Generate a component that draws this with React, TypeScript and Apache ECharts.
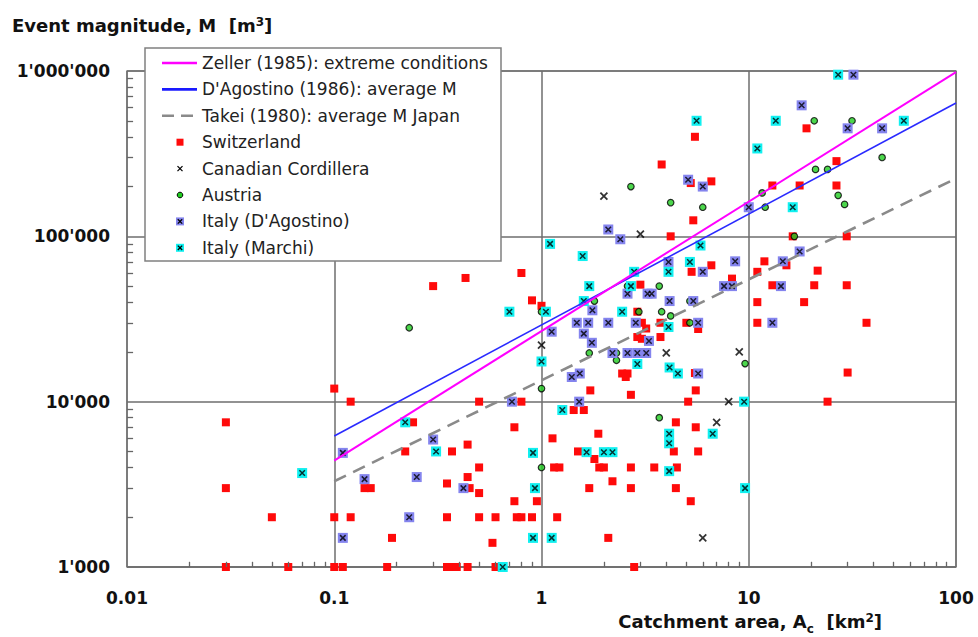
import React, { useEffect, useRef } from "react";
import * as echarts from "echarts";

// ---- axis tick labels ----
const xTickLabels = ["0.01", "0.1", "1", "10", "100"];
const yTickLabels = ["1'000", "10'000", "100'000", "1'000'000"];
const minorMultipliers = [2, 3, 4, 5, 6, 7, 8, 9];
const xDecades = [0.01, 0.1, 1, 10];
const yDecades = [1000, 10000, 100000];

// ---- model lines [area km2, magnitude m3] ----
const zellerLine = [[0.1, 4400], [100, 985000]];
const dagostinoLine = [[0.1, 6200], [100, 640000]];
const takeiLine = [[0.1, 3300], [100, 224000]];

// ---- observations [area km2, magnitude m3] ----
const switzerland = [
  [0.03, 7500], [0.03, 3000], [0.03, 1000], [0.05, 2000], [0.06, 1000],
  [0.1, 12000], [0.1, 2000], [0.1, 1000], [0.12, 10000], [0.12, 2000], [0.11, 1000],
  [0.14, 3000], [0.15, 3000], [0.19, 1500], [0.18, 1000],
  [0.24, 7500], [0.22, 5000],
  [0.35, 3200], [0.37, 5000], [0.44, 5500], [0.5, 4000], [0.44, 3500], [0.45, 3000], [0.5, 2800],
  [0.35, 2000], [0.5, 2000], [0.6, 2000], [0.76, 2000], [0.8, 2000], [0.9, 2000],
  [0.58, 1400], [0.74, 2500], [0.95, 2500], [0.74, 7000], [0.5, 10000], [0.8, 10000],
  [0.35, 1000], [0.37, 1000], [0.39, 1000], [0.44, 1000], [0.6, 1000],
  [1.13, 6000], [1.15, 4000], [1.22, 4000], [1.19, 2000],
  [0.8, 60000], [0.43, 56000], [0.3, 50000], [0.9, 41000], [1.0, 38000],
  [4.2, 100000], [5.4, 125000],
  [3.0, 51000], [2.9, 35000], [3.05, 30000], [3.2, 27700], [3.75, 30000], [5.0, 30000], [5.7, 27500],
  [3.75, 24600], [2.9, 24600], [3.05, 24000],
  [2.45, 14800], [2.6, 14800], [2.55, 14100], [1.72, 11700], [2.7, 11000], [5.55, 11700], [5.1, 10000],
  [5.5, 14900], [5.3, 61000],
  [1.43, 8900], [1.6, 8900], [4.45, 7500], [5.55, 7000], [1.88, 6400], [1.5, 5000], [4.35, 5000],
  [5.7, 5000], [1.8, 4500], [1.9, 4000], [2.0, 4000], [2.7, 4000], [3.5, 4000], [4.5, 4000],
  [2.2, 3300], [1.7, 3000], [2.7, 3000], [4.45, 3000], [5.25, 2500], [2.1, 1500], [2.8, 1000],
  [30, 15000], [24, 10000], [11, 30000], [11, 40000], [37, 30000], [18.5, 40000],
  [19, 450000], [26.5, 285000], [13, 203000], [17.6, 203000], [26.5, 203000], [16.3, 100000],
  [29.7, 100000], [15.2, 66800], [11.9, 70600], [11, 61000], [21.5, 62000], [6.6, 66800],
  [8.3, 55500], [13, 50600], [20.7, 50600], [29.7, 50600],
  [5.5, 400000], [3.8, 272000], [5.25, 210000], [6.6, 215000],
];

const canadian = [
  [2.0, 175000], [3.0, 103000], [1.0, 22000], [4.0, 19700], [9.0, 20000], [8.0, 10000], [7.0, 7500], [6.0, 1500],
];

const austria = [
  [0.23, 28000], [1.0, 35000], [1.0, 12000], [1.0, 4000], [1.8, 40600], [2.6, 50000], [3.7, 50000],
  [2.95, 35000], [3.8, 35000], [4.2, 33000], [5.2, 30000], [5.2, 40600], [1.7, 19700], [2.3, 19700],
  [2.3, 17800], [3.7, 8000], [9.6, 17000],
  [2.7, 200000], [4.2, 160000], [6.0, 150000],
  [20.7, 500000], [31.5, 500000], [44, 300000], [21, 254000], [24, 254000], [11.6, 183000],
  [27, 177000], [29, 156000], [12, 150000], [16.6, 100000],
];

const italyDAgostino = [
  [0.11, 4900], [0.11, 1500], [0.14, 3400], [0.23, 2000], [0.25, 3500], [0.3, 5900], [0.42, 3000],
  [0.72, 10000], [1.12, 26500],
  [2.1, 110000], [2.4, 96000], [4.1, 70000], [6.0, 61000], [2.6, 45000], [3.25, 45000], [3.4, 45000],
  [4.15, 40600], [5.4, 40600], [1.76, 35700], [1.48, 30000], [1.68, 30000], [2.1, 30000], [2.85, 30000],
  [5.7, 30000], [1.6, 25800], [3.3, 23300], [1.75, 22700], [2.2, 19700], [2.6, 19700], [2.9, 19700],
  [3.2, 19700], [5.7, 14800], [1.53, 14800], [1.4, 14100], [1.52, 10000],
  [5.1, 220000], [6.0, 200000], [13, 30000],
  [32, 950000], [18, 620000], [30, 450000], [44, 450000], [10, 150000], [17.6, 81000], [14.6, 70600],
  [8.6, 70600], [7.6, 50000], [8.3, 50000], [14.3, 50000],
];

const italyMarchi = [
  [0.07, 3700], [0.22, 7500], [0.31, 5000], [0.65, 1000], [0.7, 35000], [0.91, 4900], [0.93, 3000],
  [0.91, 1500], [1.05, 35000], [1.1, 90000], [1.0, 17500], [1.12, 1500], [1.26, 8900], [1.65, 4950],
  [2.0, 4950], [2.2, 4950], [4.13, 6400], [4.13, 5600], [4.13, 3800], [6.7, 6400], [9.5, 10000], [9.6, 3000],
  [5.85, 88000], [1.58, 76000], [5.2, 70000], [4.1, 61000], [2.8, 61000], [1.7, 50000], [2.7, 50000],
  [1.6, 40600], [2.45, 35000], [4.1, 28300], [2.9, 16900], [4.15, 16100], [4.55, 14800],
  [5.6, 500000], [27, 950000], [13.5, 500000], [56, 500000], [11, 340000], [16.3, 150000],
];

const NAMES = {
  zeller: "Zeller (1985): extreme conditions",
  dag: "D'Agostino (1986): average M",
  takei: "Takei (1980): average M Japan",
  ch: "Switzerland",
  ca: "Canadian Cordillera",
  at: "Austria",
  itd: "Italy (D'Agostino)",
  itm: "Italy (Marchi)",
};

const COLORS = {
  zeller: "#ff00ff",
  dag: "#2a2aff",
  takei: "#8a8a8a",
  ch: "#ff0a0a",
  at: "#1fcc1f",
  itd: "#8484ee",
  itm: "#10f0f0",
};

const X_SYMBOL = "path://M0,0L10,10M10,0L0,10";
const FONT = '"DejaVu Sans", "Liberation Sans", Arial, sans-serif';
const GRID_COLOR = "#6e6e6e";
const TICK_COLOR = "#666666";

function staticGraphic() {
  const lx = 145, ly = 48, lw = 356, lh = 213;
  const rowY = (i: number) => 63 + 26.4 * i;
  const els: any[] = [
    { type: "rect", z: 100, shape: { x: lx, y: ly, width: lw, height: lh }, style: { fill: "#fff", stroke: "#808080", lineWidth: 1.5 } },
  ];
  const lineEntries = [
    { c: COLORS.zeller, dash: null },
    { c: "#1a1aff", dash: null },
    { c: COLORS.takei, dash: [12, 7] },
  ];
  lineEntries.forEach((e, i) => {
    els.push({
      type: "line", z: 101,
      shape: { x1: 162, y1: rowY(i), x2: 197, y2: rowY(i) },
      style: { stroke: e.c, lineWidth: 2.6, lineDash: e.dash || undefined },
    });
  });
  const mx = 180;
  const xMark = (cx: number, cy: number, s: number, w: number) => [
    { type: "line", z: 102, shape: { x1: cx - s, y1: cy - s, x2: cx + s, y2: cy + s }, style: { stroke: "#000", lineWidth: w } },
    { type: "line", z: 102, shape: { x1: cx + s, y1: cy - s, x2: cx - s, y2: cy + s }, style: { stroke: "#000", lineWidth: w } },
  ];
  els.push({ type: "rect", z: 101, shape: { x: mx - 3.5, y: rowY(3) - 3.5, width: 7, height: 7 }, style: { fill: COLORS.ch } });
  els.push(...xMark(mx, rowY(4), 2.5, 1.3));
  els.push({ type: "circle", z: 101, shape: { cx: mx, cy: rowY(5), r: 2.8 }, style: { fill: COLORS.at, stroke: "#000", lineWidth: 1 } });
  els.push({ type: "rect", z: 101, shape: { x: mx - 4, y: rowY(6) - 4, width: 8, height: 8 }, style: { fill: COLORS.itd } });
  els.push(...xMark(mx, rowY(6), 2.2, 1.3));
  els.push({ type: "rect", z: 101, shape: { x: mx - 4, y: rowY(7) - 4, width: 8, height: 8 }, style: { fill: COLORS.itm } });
  els.push(...xMark(mx, rowY(7), 2.2, 1.3));
  [NAMES.zeller, NAMES.dag, NAMES.takei, NAMES.ch, NAMES.ca, NAMES.at, NAMES.itd, NAMES.itm].forEach((n, i) => {
    els.push({
      type: "text", z: 103,
      style: { text: n, x: 202, y: rowY(i), verticalAlign: "middle", align: "left", fontSize: 17, fontFamily: FONT, fill: "#222" },
    });
  });

  const base = { fontSize: 18, fontWeight: "bold", fontFamily: FONT, fill: "#111", lineHeight: 24, verticalAlign: "top" };
  const small = { fontSize: 12, fontWeight: "bold", fontFamily: FONT, fill: "#111", lineHeight: 12 };
  els.push({
    type: "text", z: 103,
    style: {
      x: 12, y: 16, align: "left", verticalAlign: "top",
      text: "{b|Event magnitude, M  [m}{s|3}{b|]}",
      rich: { b: base, s: { ...small, verticalAlign: "top" } },
    },
  });
  els.push({
    type: "text", z: 103,
    style: {
      x: 882, y: 612, align: "right", verticalAlign: "top",
      text: "{b|Catchment area, A}{c|c}{b|  [km}{s|2}{b|]}",
      rich: {
        b: base,
        c: { ...small, verticalAlign: "top", padding: [11, 0, 0, 0] },
        s: { ...small, verticalAlign: "top" },
      },
    },
  });
  return els;
}

// minor tick segments on the bottom (x) and left (y) axes, in data coordinates
function minorTickSegments() {
  const segs: any[] = [];
  const xMin = xDecades[0];
  const yMin = yDecades[0];
  xDecades.forEach((d) =>
    minorMultipliers.forEach((m) => {
      segs.push([{ coord: [m * d, yMin] }, { coord: [m * d, yMin * 1.075] }]);
    })
  );
  yDecades.forEach((d) =>
    minorMultipliers.forEach((m) => {
      segs.push([{ coord: [xMin, m * d] }, { coord: [xMin * 1.07, m * d] }]);
    })
  );
  return segs;
}

function buildOption() {
  const xLabel = (v: number) => xTickLabels[Math.round(Math.log10(v)) + 2] ?? "";
  const yLabel = (v: number) => yTickLabels[Math.round(Math.log10(v)) - 3] ?? "";
  return {
    animation: false,
    backgroundColor: "#fff",
    grid: {
      left: 127, right: 22, top: 71, bottom: 70,
      show: true, borderColor: "#8a8a8a", borderWidth: 1.5,
      outerBoundsMode: "none",
    },
    xAxis: {
      type: "log", logBase: 10, min: 0.01, max: 100,
      axisLine: { show: false }, axisTick: { show: false },
      splitLine: { show: true, lineStyle: { color: GRID_COLOR, width: 1.5 } },
      axisLabel: { formatter: xLabel, fontSize: 17, fontWeight: "bold", fontFamily: FONT, color: "#111", margin: 22 },
    },
    yAxis: {
      type: "log", logBase: 10, min: 1000, max: 1000000,
      axisLine: { show: false }, axisTick: { show: false },
      splitLine: { show: true, lineStyle: { color: GRID_COLOR, width: 1.5 } },
      axisLabel: { formatter: yLabel, fontSize: 17, fontWeight: "bold", fontFamily: FONT, color: "#111", margin: 17 },
    },
    graphic: staticGraphic(),
    series: [
      {
        type: "scatter", name: NAMES.ch, data: switzerland, symbol: "rect", symbolSize: 8,
        itemStyle: { color: COLORS.ch, opacity: 1 },
        markLine: {
          silent: true, symbol: ["none", "none"], animation: false,
          label: { show: false },
          lineStyle: { color: TICK_COLOR, width: 1.3, type: "solid", opacity: 1 },
          emphasis: { disabled: true },
          data: minorTickSegments(),
        },
      },
      { type: "scatter", name: NAMES.ca, data: canadian, symbol: X_SYMBOL, symbolSize: 7, itemStyle: { color: "rgba(0,0,0,0)", borderColor: "#000", borderWidth: 1.8 } },
      { type: "scatter", name: NAMES.at, data: austria, symbol: "circle", symbolSize: 6.5, itemStyle: { color: COLORS.at, borderColor: "#000", borderWidth: 1.2 } },
      { type: "scatter", name: NAMES.itd, data: italyDAgostino, symbol: "rect", symbolSize: 10, itemStyle: { color: COLORS.itd, opacity: 1 } },
      { type: "scatter", name: NAMES.itd + " x", data: italyDAgostino, symbol: X_SYMBOL, symbolSize: 5.5, silent: true, itemStyle: { color: "rgba(0,0,0,0)", borderColor: "#000", borderWidth: 1.5 } },
      { type: "scatter", name: NAMES.itm, data: italyMarchi, symbol: "rect", symbolSize: 10, itemStyle: { color: COLORS.itm, opacity: 1 } },
      { type: "scatter", name: NAMES.itm + " x", data: italyMarchi, symbol: X_SYMBOL, symbolSize: 5.5, silent: true, itemStyle: { color: "rgba(0,0,0,0)", borderColor: "#000", borderWidth: 1.5 } },
      { type: "line", name: NAMES.takei, data: takeiLine, symbol: "none", lineStyle: { color: COLORS.takei, width: 2.6, type: [13, 8] }, z: 3 },
      { type: "line", name: NAMES.dag, data: dagostinoLine, symbol: "none", lineStyle: { color: COLORS.dag, width: 1.6 }, z: 3 },
      { type: "line", name: NAMES.zeller, data: zellerLine, symbol: "none", lineStyle: { color: COLORS.zeller, width: 2 }, z: 3 },
    ],
  };
}

export default function App() {
  const ref = useRef<HTMLDivElement>(null);
  useEffect(() => {
    if (!ref.current) return;
    const chart = echarts.init(ref.current, undefined, { renderer: "svg" });
    chart.setOption(buildOption() as any);
    return () => chart.dispose();
  }, []);
  return (
    <div
      ref={ref}
      style={{ position: "absolute", left: 0, top: 0, width: 978, height: 637, background: "#fff" }}
    />
  );
}
